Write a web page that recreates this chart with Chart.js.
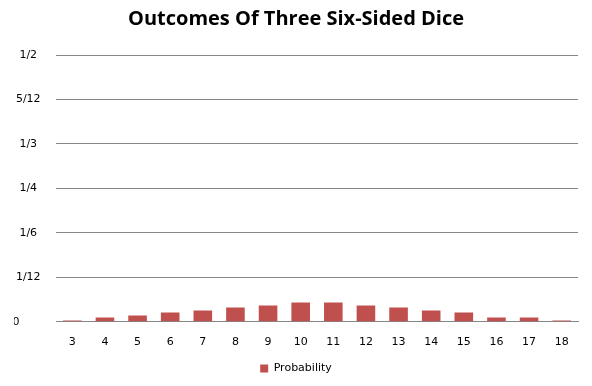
<!DOCTYPE html>
<html>
<head>
<meta charset="utf-8">
<script src="https://cdn.jsdelivr.net/npm/chart.js@4"></script>
<style>
  html, body { margin: 0; padding: 0; background: #fff; }
  #wrap { width: 592px; height: 386px; }
</style>
</head>
<body>
<div id="wrap"><canvas id="myChart" width="592" height="386"></canvas></div>
<script>
// sums of three dice
const labels = ['3', '4', '5', '6', '7', '8', '9', '10', '11', '12', '13', '14', '15', '16', '17', '18'];
// bar heights (axis units, 1/12 per gridline)
const probability = [0.0025, 0.0081, 0.0119, 0.0175, 0.0213, 0.0269, 0.0307, 0.0363,
                     0.0363, 0.0307, 0.0269, 0.0213, 0.0175, 0.0081, 0.0081, 0.0025];
// "0" is padded so it sits left like the Excel fraction format
const yTickLabels = ['0       ', '1/12', '1/6', '1/4', '1/3', '5/12', '1/2'];

const tickFont = { family: 'DejaVu Sans', size: 11 };

const config = {
    type: 'bar',
    data: {
        labels: labels,
        datasets: [{
            label: 'Probability',
            data: probability,
            backgroundColor: '#C0504D',
            borderWidth: 0,
            barPercentage: 0.57,
            categoryPercentage: 1.0
        }]
    },
    options: {
        responsive: false,
        animation: false,
        layout: { padding: { left: 14, right: 14, top: 7, bottom: 2 } },
        plugins: {
            title: {
                display: true,
                text: 'Outcomes Of Three Six-Sided Dice',
                color: '#000',
                font: { family: 'Open Sans', size: 20, weight: 'bold' },
                padding: { top: 0, bottom: 24 }
            },
            legend: {
                position: 'bottom',
                labels: {
                    boxWidth: 8,
                    boxHeight: 8,
                    color: '#000',
                    font: tickFont,
                    padding: 0
                }
            },
            tooltip: { enabled: false }
        },
        scales: {
            x: {
                grid: { display: false, drawTicks: false },
                border: { color: '#868686' },
                ticks: { color: '#000', font: tickFont, padding: 14, maxRotation: 0 }
            },
            y: {
                min: 0,
                max: 0.5,
                grid: { color: '#868686', drawTicks: false },
                border: { display: false },
                afterFit: function (axis) { axis.width = 42; },
                ticks: {
                    stepSize: 1 / 12,
                    color: '#000',
                    font: tickFont,
                    crossAlign: 'center',
                    padding: 12,
                    callback: function (value, index) { return yTickLabels[index]; }
                }
            }
        }
    }
};

const myChart = new Chart(document.getElementById('myChart'), config);
</script>
</body>
</html>
